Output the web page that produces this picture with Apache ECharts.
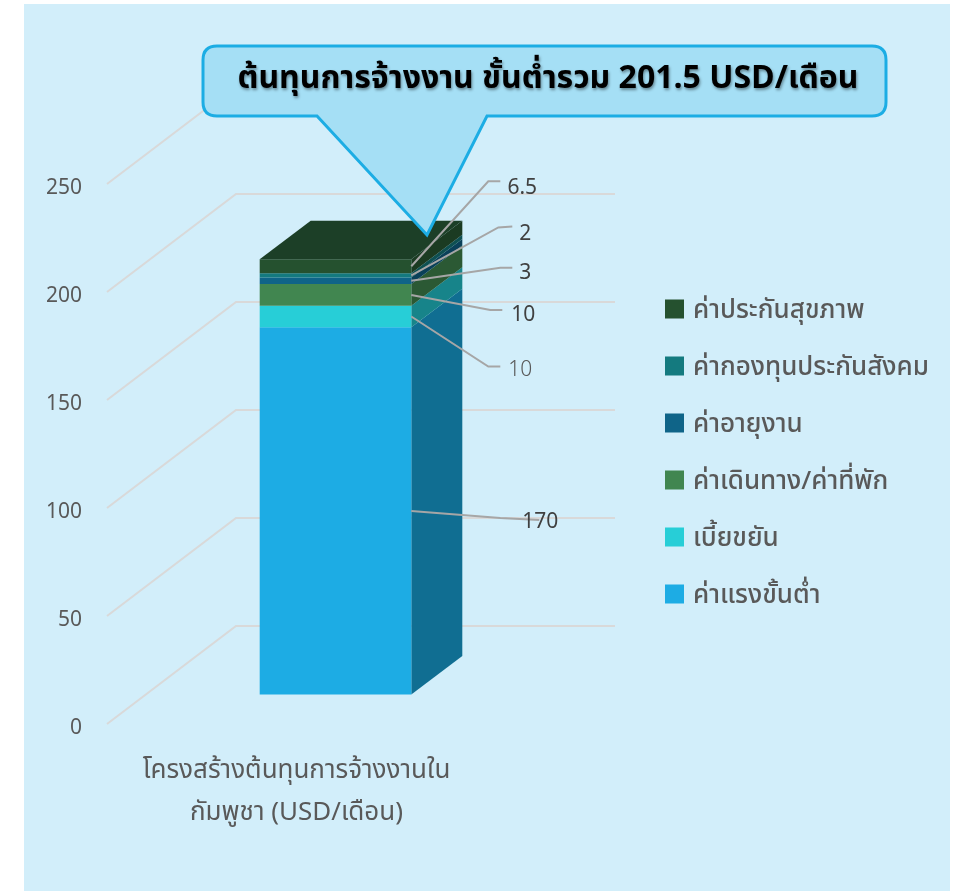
<!DOCTYPE html>
<html><head><meta charset="utf-8">
<style>html,body{margin:0;padding:0;background:#fff}#c{width:958px;height:891px}</style>
<script src="https://cdn.jsdelivr.net/npm/echarts@6/dist/echarts.min.js"></script>
</head><body><div id="c"></div>
<script>
// ---- data ----
const category = 'โครงสร้างต้นทุนการจ้างงานใน\nกัมพูชา (USD/เดือน)';
const seriesNames = ['ค่าแรงขั้นต่ำ','เบี้ยขยัน','ค่าเดินทาง/ค่าที่พัก','ค่าอายุงาน','ค่ากองทุนประกันสังคม','ค่าประกันสุขภาพ'];
const seriesValues = [170,10,10,3,2,6.5];
const valueLabels = ['170','10','10','3','2','6.5'];
const yTicks = [0,50,100,150,200,250];
const calloutText = 'ต้นทุนการจ้างงาน ขั้นต่ำรวม 201.5 USD/เดือน';
// ---- style / layout ----
const FONT = '"Noto Sans Thai","Noto Sans","Open Sans","DejaVu Sans",sans-serif';
const frontColors = ['#1dace4','#27ced7','#418650','#0f6488','#147a7f','#25512f'];
const sideColors  = ['#106e92','#17848a','#2b5934','#0a4059','#0e5052','#1b3b22'];
const topColor = '#1c3f27';
// wall depth and the bar's position inside it, in pixels
const WALL = [129,-98], BAR_NEAR = [39,-29.5], BAR_FAR = [90,-68];
// leader elbow + label, relative to the segment's mid point on the right front edge
const leaders = [
 {e:[89,7],  k:[39,2], t:[129,9]},
 {e:[77,50], k:[12,0], t:[109,51], c:'#595959', w:300},
 {e:[79,15], k:[12,0], t:[112,18]},
 {e:[89,-13],k:[12,0], t:[114,-10]},
 {e:[87,-48],k:[14,-1],t:[114,-44]},
 {e:[77,-85],k:[12,0], t:[111,-81]}
];
const LABEL_DROP = 4;
// cumulative stack
const ends = []; seriesValues.reduce((s,v,i)=>(ends[i]=s+v),0);
const starts = ends.map((e,i)=>e-seriesValues[i]);
const BAR_RATIO = 0.4;

function add(p,d){return [p[0]+d[0],p[1]+d[1]];}
function quad(a,b,c,d,fill){return {type:'polygon',shape:{points:[a,b,c,d]},style:{fill}};}

function barSegment(i){return function(params,api){
  const v0=api.value(1), v1=api.value(2);
  const w=api.size([1,0])[0]*BAR_RATIO;
  const b=api.coord([0,v0]), t=api.coord([0,v1]);
  const bl=add([b[0]-w/2,b[1]],BAR_NEAR), br=add([b[0]+w/2,b[1]],BAR_NEAR);
  const tl=add([t[0]-w/2,t[1]],BAR_NEAR), tr=add([t[0]+w/2,t[1]],BAR_NEAR);
  const f=p=>add(add(p,[-BAR_NEAR[0],-BAR_NEAR[1]]),BAR_FAR);
  const ch=[
    quad(br,tr,f(tr),f(br),sideColors[i]),
    quad(bl,br,tr,tl,frontColors[i])
  ];
  if(i===seriesValues.length-1) ch.push(quad(tl,tr,f(tr),f(tl),topColor));
  return {type:'group',children:ch};
};}

const barSeries = seriesNames.map((name,i)=>({
  name,type:'custom',coordinateSystem:'cartesian2d',z:3+i,
  itemStyle:{color:frontColors[i]},
  encode:{x:0,y:[1,2]},
  data:[[0,starts[i],ends[i]]],
  renderItem:barSegment(i),silent:true
}));

const wallSeries = {
  type:'custom',z:1,silent:true,encode:{y:0},
  data:yTicks.map(v=>[v]),
  renderItem(params,api){
    const y=api.coord([0,api.value(0)])[1];
    const rect=params.coordSys;
    const a=[rect.x,y], b=add(a,WALL), c=[rect.x+rect.width+WALL[0],b[1]];
    return {type:'polyline',shape:{points:[a,b,c]},style:{stroke:'#d9d9d9',lineWidth:2,fill:null}};
  }
};

const labelSeries = {
  type:'custom',z:20,silent:true,encode:{y:0},
  data:seriesValues.map((v,i)=>[(starts[i]+ends[i])/2,i]),
  renderItem(params,api){
    const i=api.value(1), L=leaders[i];
    const w=api.size([1,0])[0]*BAR_RATIO;
    const m=api.coord([0,api.value(0)]);
    const s=add([m[0]+w/2,m[1]],BAR_NEAR);
    const e=add(s,L.e), k=add(e,L.k);
    return {type:'group',children:[
      {type:'polyline',shape:{points:[s,e,k]},style:{stroke:'#a6a6a6',lineWidth:2,fill:null}},
      {type:'text',style:{x:s[0]+L.t[0],y:s[1]+L.t[1]+LABEL_DROP,text:valueLabels[i],align:'center',verticalAlign:'middle',
        font:(L.w||400)+' 21px '+FONT,fill:L.c||'#404040'}}
    ]};
  }
};

const calloutPath='M217 46 H872 Q886 46 886 60 V102 Q886 116 872 116 H487 L427 235 L317 116 H217 Q203 116 203 102 V60 Q203 46 217 46 Z';
const calloutSeries = {
  type:'custom',z:100,silent:true,encode:{y:0},data:[[0]],
  renderItem(){
    return {type:'group',children:[
      {type:'path',shape:{pathData:calloutPath,x:203,y:46,width:683,height:189,layout:'cover'},
        style:{fill:'#a5dff5',stroke:'#1cade4',lineWidth:3}},
      {type:'text',style:{x:548,y:82,text:calloutText,align:'center',verticalAlign:'middle',
        font:'700 32px '+FONT,fill:'#000',textShadowColor:'rgba(0,0,0,0.4)',textShadowBlur:3,textShadowOffsetX:1,textShadowOffsetY:2}}
    ]};
  }
};

const chart=echarts.init(document.getElementById('c'),null,{renderer:'canvas'});
chart.setOption({
  animation:false,
  textStyle:{fontFamily:FONT},
  grid:{left:107,width:379,top:184,height:540,containLabel:false},
  xAxis:{type:'category',data:[category],axisLine:{show:false},axisTick:{show:false},splitLine:{show:false},
    axisLabel:{margin:28,fontSize:26,lineHeight:42,color:'#595959',fontFamily:FONT,interval:0}},
  yAxis:{type:'value',min:0,max:250,interval:50,axisLine:{show:false},axisTick:{show:false},splitLine:{show:false},
    axisLabel:{margin:25,fontSize:21,color:'#595959',fontFamily:FONT,verticalAlign:'top',lineHeight:12}},
  legend:{orient:'vertical',left:660,top:287,itemWidth:19,itemHeight:19,itemGap:23,icon:'rect',
    data:seriesNames.slice().reverse(),selectedMode:false,
    formatter:name=>'{t|'+name+'}',
    textStyle:{rich:{t:{fontSize:26,fontWeight:500,color:'#595959',lineHeight:19,fontFamily:FONT,padding:[8,0,0,4]}}}},
  graphic:[
    {type:'rect',z:-10,silent:true,shape:{x:24,y:4,width:926,height:887},style:{fill:'#d2eefa'}}
  ],
  series:[wallSeries,...barSeries,labelSeries,calloutSeries]
});
</script></body></html>
